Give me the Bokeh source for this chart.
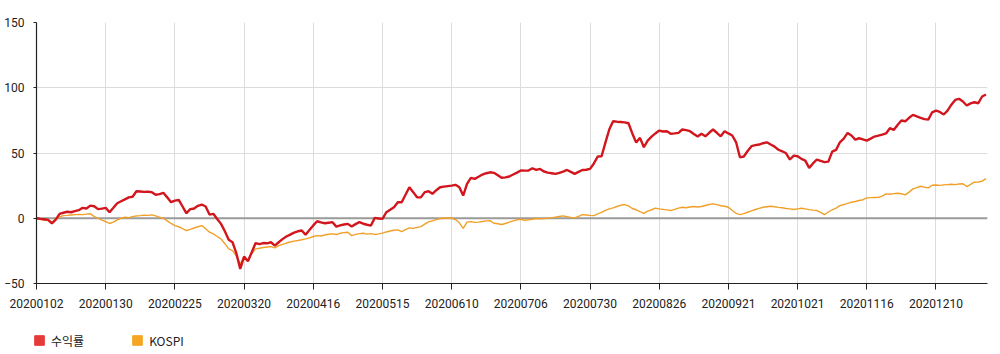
from bokeh.plotting import figure
from bokeh.layouts import column
from bokeh.models import (Range1d, FixedTicker, Span, Legend, LegendItem,
                          ColumnDataSource)
from bokeh.embed import file_html
from bokeh.resources import INLINE

# ---- data ----
tick_labels = ["20200102", "20200130", "20200225", "20200320", "20200416",
               "20200515", "20200610", "20200706", "20200730", "20200826",
               "20200921", "20201021", "20201116", "20201210"]
tick_step = 18  # trading days between labelled dates

returns = [
    0, -0.5, -0.8, -1.2, -4, -1, 3.4, 4.2, 5, 4.6,
    5.5, 6.2, 8, 7.5, 9.7, 9.2, 7, 7.4, 8, 4.6,
    8, 11.5, 13, 14.5, 16, 16.5, 20.7, 20.5, 20.2, 20.3,
    20, 18, 18.5, 19.5, 16, 12.3, 13.5, 14, 9, 3.8,
    7, 7.5, 9.5, 10.5, 9, 2.8, 3.4, -0.5, -4.3, -10,
    -16.5, -18.4, -27, -38.8, -29.4, -33, -26, -19, -19.8, -19,
    -19.2, -18.4, -21, -18.4, -16, -14, -12.5, -11, -10, -9.4,
    -12.7, -9, -5.5, -2.3, -3.2, -3.8, -3.4, -3, -6.4, -5.5,
    -4.8, -4.3, -6.4, -4.5, -3, -4.2, -5, -5.6, 0.3, -0.2,
    -0.5, 4.6, 6.5, 8.5, 12.3, 12.3, 18, 23.8, 20, 16.1,
    16, 20, 20.7, 18.7, 21.5, 23.8, 24.2, 24.6, 25, 25.6,
    23.8, 17.4, 26.4, 31, 30.2, 31.8, 33.5, 34.5, 35.2, 34.8,
    33, 31, 31.3, 32, 33.5, 35, 36.6, 36.5, 36.6, 38.3,
    37, 37.8, 35.8, 35, 34.5, 34, 34.8, 35.8, 37, 35.5,
    34, 35.5, 37, 37.2, 37.8, 42, 47.3, 47.5, 58, 68,
    74.3, 74, 73.8, 73.5, 72.8, 65, 58, 61.6, 54.4, 59.5,
    62.5, 65, 67.2, 66.5, 66.7, 64.7, 65, 65.4, 68, 67.5,
    66.7, 64.5, 62.6, 64.7, 62.8, 65.5, 68, 65.5, 62.8, 66.7,
    65, 63.4, 58.2, 46.7, 47.3, 51.5, 55.2, 56, 56.5, 57.5,
    58.2, 56.5, 54.9, 52.5, 51.3, 49.8, 45, 48, 47.5, 45.5,
    44.2, 38.6, 42, 45, 44, 43, 43.4, 51.1, 52.4, 58.2,
    61, 65.4, 63.4, 60.3, 61.3, 60.5, 59.5, 61, 62.6, 63.3,
    64.1, 65, 69, 67.7, 71.5, 74.9, 74.3, 77, 79.2, 78,
    77, 76, 75.6, 81.2, 82.5, 81.5, 79.5, 82.5, 87, 90.7,
    91.5, 89.5, 86.4, 88, 88.9, 88.1, 93.3, 94.8,
]

kospi = [
    0, -0.8, -1.5, -1.2, -3, -0.5, 1, 2, 2.2, 2.5,
    2.8, 3, 2.8, 3.2, 3.4, 1.5, 0, -1.5, -2.5, -4,
    -3, -1.2, 0, 0.8, 0.5, 1.2, 1.8, 2, 2.4, 2.2,
    2.6, 1.8, 0.8, 0, -2, -4, -5.6, -6.5, -8, -9.4,
    -8.5, -7.5, -6.5, -5.6, -8, -10.7, -12, -14, -15.8, -19.5,
    -23.5, -24.8, -29, -35, -29.4, -32.4, -27, -23.5, -23, -22.4,
    -22, -21.7, -22.7, -21, -20, -19, -18.2, -17.5, -17, -16.5,
    -15.8, -15, -14, -13.3, -13.6, -12.8, -12.3, -12, -12.5, -11.5,
    -11, -10.7, -13.3, -12.4, -11.8, -11.5, -12.2, -11.8, -12.4, -12,
    -11.4, -10.5, -9.8, -9.2, -8.9, -10.2, -8.8, -7.4, -7.8, -7,
    -6.4, -4.5, -2.8, -2, -1, -0.2, 0, 0.2, 0, -1,
    -3.5, -7.7, -3, -2.6, -3.2, -3, -2.5, -2, -1.8, -3.8,
    -4.2, -4.8, -4, -3, -2, -1.2, -0.8, -1.5, -1.2, -0.8,
    -0.2, -0.5, -0.2, 0, 0.3, 0.8, 1.3, 1.8, 1.2, 0.6,
    0.3, 1.5, 2.8, 2.5, 2.2, 2, 3.4, 4.5, 6, 7.2,
    8, 9, 10, 10.5, 9.5, 7.5, 6.5, 5, 3.8, 5.5,
    6.5, 7.7, 7.2, 6.8, 6.4, 5.9, 6.8, 7.8, 8.4, 8,
    8.6, 9, 8.6, 9, 9.8, 10.5, 11, 10.4, 9.6, 9.2,
    8.4, 5.9, 3.8, 2.8, 3.5, 4.6, 5.6, 6.7, 7.6, 8.4,
    8.8, 9.2, 8.8, 8.3, 8, 7.5, 7.2, 6.7, 7.2, 7.7,
    7.2, 6.6, 6.2, 5.9, 4.5, 2.8, 4.8, 6.5, 7.8, 9.7,
    10.5, 11.4, 12.3, 12.8, 13.6, 14.2, 15.6, 15.8, 15.9, 16,
    17, 18.7, 18.4, 18.9, 19.2, 18.8, 17.9, 20, 22.5, 23.5,
    24.5, 23.8, 23.3, 25.3, 25.5, 25.2, 25.6, 25.8, 26, 25.8,
    26.2, 26.4, 24.3, 26, 27.6, 27.8, 28.4, 30.4,
]

series_names = ["수익률", "KOSPI"]
y_ticks = [-50, 0, 50, 100, 150]

# ---- build ----
xs = list(range(len(returns)))
src = ColumnDataSource(dict(x=xs, ret=returns, kospi=kospi))
tick_pos = [i * tick_step for i in range(len(tick_labels))]

FONT = "Roboto"

p = figure(width=1000, height=318, output_backend="svg", toolbar_location=None,
           x_range=Range1d(0, 247.4), y_range=Range1d(-50, 150),
           min_border_left=36, min_border_right=13, min_border_top=22,
           min_border_bottom=35)
p.outline_line_color = None
p.background_fill_color = "white"
p.frame_align = False

p.xaxis.ticker = FixedTicker(ticks=tick_pos)
p.xaxis.major_label_overrides = {pos: lab for pos, lab in zip(tick_pos, tick_labels)}
p.yaxis.ticker = FixedTicker(ticks=y_ticks)

for ax in (p.xaxis[0], p.yaxis[0]):
    ax.axis_line_color = "#222222"
    ax.axis_line_width = 1.2
    ax.major_tick_line_color = "#222222"
    ax.minor_tick_line_color = None
    ax.major_tick_in = 0
    ax.major_label_text_font = FONT
    ax.major_label_text_font_size = "12px"
    ax.major_label_text_color = "#222222"
p.xaxis.major_tick_out = 6
p.xaxis.major_label_standoff = 9
p.yaxis.major_tick_out = 3
p.yaxis.major_label_standoff = 9

p.xgrid.grid_line_color = "#dcdcdc"
p.ygrid.grid_line_color = "#dcdcdc"
p.xgrid.grid_line_width = 1
p.ygrid.grid_line_width = 1

zero = Span(location=0, dimension="width", line_color="#9a9a9a",
            line_width=1.8, level="underlay")
p.add_layout(zero)

p.line("x", "kospi", source=src, line_color="#f0a028", line_width=1.4)
p.line("x", "ret", source=src, line_color="#d2161e", line_width=2.4)

# ---- legend strip below the chart (its value range lies above the data,
#      so the swatch renderers draw nothing but the legend squares) ----
leg = figure(width=1000, height=36, output_backend="svg", toolbar_location=None,
             x_range=p.x_range, y_range=Range1d(1000, 1001), min_border=0,
             x_axis_location=None, y_axis_location=None)
leg.outline_line_color = None
leg.grid.visible = False
leg.frame_align = False

sq1 = leg.scatter("x", "ret", source=src, marker="square",
                  fill_color="#e53a3a", line_color="#e53a3a")
sq2 = leg.scatter("x", "kospi", source=src, marker="square",
                  fill_color="#f5a623", line_color="#f5a623")

legend = Legend(items=[LegendItem(label=series_names[0], renderers=[sq1]),
                       LegendItem(label=series_names[1], renderers=[sq2])],
                orientation="horizontal", location=(27, 2),
                glyph_width=24, glyph_height=24, label_standoff=0,
                spacing=41, padding=0, margin=0,
                border_line_color=None, background_fill_alpha=0,
                label_text_font="Noto Sans CJK KR", label_text_font_size="12px",
                label_text_color="#222222")
leg.add_layout(legend)

layout = column(p, leg, spacing=0)
open("out.html", "w").write(file_html(layout, INLINE))
